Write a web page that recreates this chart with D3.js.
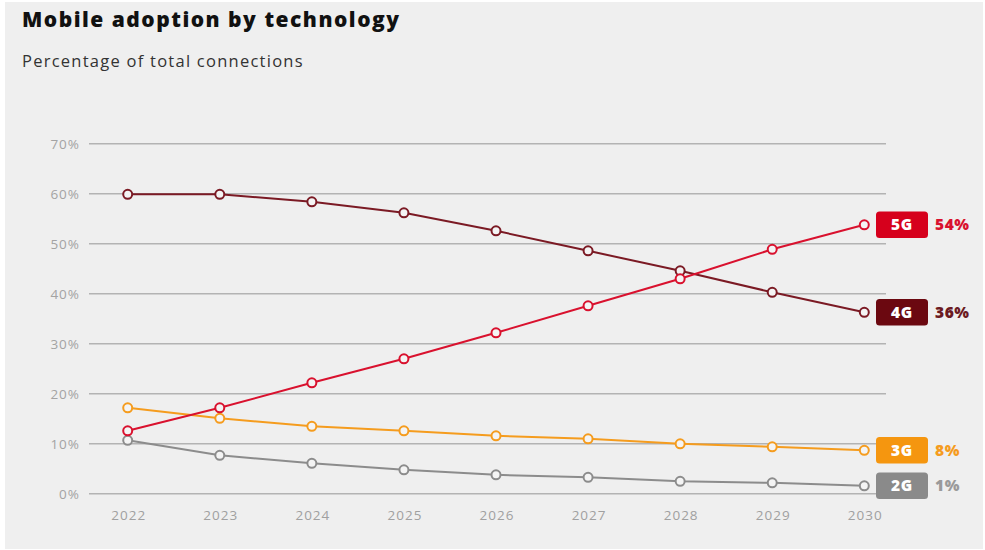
<!DOCTYPE html>
<html>
<head>
<meta charset="utf-8">
<script src="https://cdn.jsdelivr.net/npm/d3@7"></script>
<style>
  html, body { margin: 0; padding: 0; background: #ffffff; }
  svg { display: block; }
  text { font-family: "Open Sans", Lato, sans-serif; }
</style>
</head>
<body>
<svg id="chart" width="985" height="550"></svg>
<script>
const years = ["2022", "2023", "2024", "2025", "2026", "2027", "2028", "2029", "2030"];
const yTicks = [0, 10, 20, 30, 40, 50, 60, 70];
const values4G = [59.8, 59.8, 58.3, 56.1, 52.5, 48.5, 44.5, 40.2, 36.2];
const values5G = [12.5, 17.1, 22.1, 26.9, 32.1, 37.5, 42.9, 48.8, 53.7];
const values3G = [17.1, 15.0, 13.4, 12.5, 11.5, 10.9, 9.9, 9.3, 8.6];
const values2G = [10.6, 7.6, 6.0, 4.7, 3.7, 3.2, 2.4, 2.1, 1.5];
const endLabels = ["36%", "54%", "8%", "1%"];

const lineColors = {"4G": "#7b1a24", "5G": "#d9112e", "3G": "#f59c1e", "2G": "#8c8c8c"};
const boxColors  = {"4G": "#6b0810", "5G": "#d6001c", "3G": "#f5960f", "2G": "#8a8a8a"};
const textColors = {"4G": "#6b1a22", "5G": "#d9112e", "3G": "#f59c1e", "2G": "#9a9a9a"};

const series = [
  {name: "4G", values: values4G, label: endLabels[0]},
  {name: "5G", values: values5G, label: endLabels[1]},
  {name: "3G", values: values3G, label: endLabels[2]},
  {name: "2G", values: values2G, label: endLabels[3]}
];

const svg = d3.select("#chart");

svg.append("rect").attr("x", 5).attr("y", 2).attr("width", 978).attr("height", 547).attr("fill", "#efefef");

svg.append("text").attr("x", 22).attr("y", 27)
  .attr("font-size", 21).attr("font-weight", 800).attr("fill", "#111")
  .attr("letter-spacing", 1.5)
  .text("Mobile adoption by technology");
svg.append("text").attr("x", 22).attr("y", 67)
  .attr("font-size", 16.5).attr("fill", "#333")
  .attr("letter-spacing", 1.25)
  .text("Percentage of total connections");

const x = d3.scalePoint().domain(years).range([127.7, 864.3]);
const y = d3.scaleLinear().domain([0, 70]).range([493.3, 143.3]);

const yAxis = d3.axisLeft(y).tickValues(yTicks).tickFormat(d => d + "%").tickSize(-(886 - 89)).tickPadding(9);
const gy = svg.append("g").attr("transform", "translate(89,0)").call(yAxis);
gy.select(".domain").remove();
gy.selectAll(".tick line").attr("stroke", "#b3b3b3").attr("stroke-width", 1.5);
gy.selectAll(".tick text").attr("fill", "#a3a3a3").attr("font-size", 13.5)
  .attr("letter-spacing", 1).attr("dy", "0.35em");

const xAxis = d3.axisBottom(x).tickSize(0).tickPadding(0);
const gx = svg.append("g").attr("transform", "translate(0,510)").call(xAxis);
gx.select(".domain").remove();
gx.selectAll(".tick text").attr("fill", "#a0a0a0").attr("font-size", 13.5)
  .attr("letter-spacing", 1).attr("dx", 0.5).attr("dy", "0.71em");

const line = d3.line().x((d, i) => x(years[i])).y(d => y(d));

const drawOrder = ["2G", "3G", "4G", "5G"];
drawOrder.forEach(name => {
  const s = series.find(t => t.name === name);
  svg.append("path").datum(s.values)
    .attr("d", line).attr("fill", "none")
    .attr("stroke", lineColors[name]).attr("stroke-width", 2);
});
drawOrder.forEach(name => {
  const s = series.find(t => t.name === name);
  svg.append("g").selectAll("circle").data(s.values).join("circle")
    .attr("cx", (d, i) => x(years[i])).attr("cy", d => y(d)).attr("r", 4.5)
    .attr("fill", "#f4f4f4").attr("stroke", lineColors[name]).attr("stroke-width", 2);
});

series.forEach(s => {
  const last = s.values[s.values.length - 1];
  const cy = y(last);
  const g = svg.append("g");
  g.append("rect").attr("x", 876).attr("y", cy - 13.3).attr("width", 52).attr("height", 26.6)
    .attr("rx", 3.5).attr("fill", boxColors[s.name]);
  g.append("text").attr("x", 902).attr("y", cy).attr("dy", "0.36em")
    .attr("text-anchor", "middle").attr("fill", "#fff")
    .attr("font-size", 15.5).attr("font-weight", 800).attr("letter-spacing", 0.6).text(s.name);
  g.append("text").attr("x", 935).attr("y", cy).attr("dy", "0.36em")
    .attr("fill", textColors[s.name]).attr("font-size", 15.5).attr("font-weight", 800)
    .attr("letter-spacing", 0.6).text(s.label);
});
</script>
</body>
</html>
